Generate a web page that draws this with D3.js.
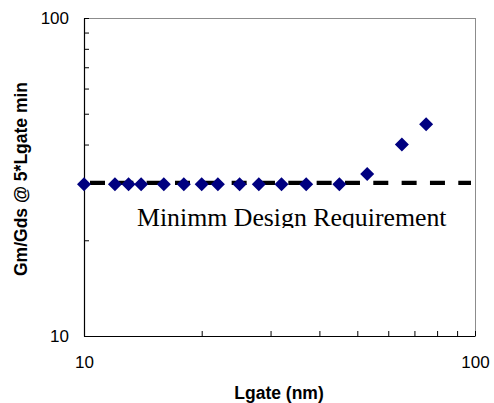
<!DOCTYPE html>
<html>
<head>
<meta charset="utf-8">
<script src="https://cdn.jsdelivr.net/npm/d3@7"></script>
<style>
  html, body { margin: 0; padding: 0; background: #fff; }
  svg { display: block; }
  .tick text { font-family: "Liberation Sans", Arial, sans-serif; font-size: 17px; fill: #000; }
</style>
</head>
<body>
<svg id="chart" width="494" height="403"></svg>
<script>
// Gate length (nm) and the Gm/Gds ratio measured at 5 x minimum gate length
const lgate = [10, 12, 13, 14, 16, 18, 20, 22, 25, 28, 32, 37, 45, 53, 65, 75];
const gmGds = [30, 30, 30, 30, 30, 30, 30, 30, 30, 30, 30, 30, 30, 32.3, 40, 46.3];

// Minimum design requirement for Gm/Gds
const requirement = 30;
const requirementLabel = "Minimm Design Requirement";

// Axis ranges and labelled ticks (log-log)
const xDomain = [10, 100];
const yDomain = [10, 100];
const labelledTicks = [10, 100];
const allTicks = [10, 20, 30, 40, 50, 60, 70, 80, 90, 100];

const xTitle = "Lgate (nm)";
const yTitle = "Gm/Gds @ 5*Lgate min";

const svg = d3.select("#chart");
const plot = { left: 84, right: 475, top: 18, bottom: 336 };

const x = d3.scaleLog().domain(xDomain).range([plot.left, plot.right]);
const y = d3.scaleLog().domain(yDomain).range([plot.bottom, plot.top]);

const tickFmt = d => labelledTicks.includes(d) ? String(d) : "";

// Gray frame on the top and right edges
svg.append("line")
  .attr("x1", plot.left).attr("x2", plot.right)
  .attr("y1", plot.top + 0.5).attr("y2", plot.top + 0.5)
  .attr("stroke", "#8c8c8c").attr("stroke-width", 1);
svg.append("line")
  .attr("x1", plot.right + 0.5).attr("x2", plot.right + 0.5)
  .attr("y1", plot.top).attr("y2", plot.bottom)
  .attr("stroke", "#8c8c8c").attr("stroke-width", 1);

// Axes with ticks pointing into the plot
const xAxis = svg.append("g")
  .attr("transform", `translate(0,${plot.bottom})`)
  .call(d3.axisBottom(x).tickValues(allTicks).tickFormat(tickFmt)
    .tickSizeInner(-5).tickSizeOuter(0).tickPadding(19.5));
const yAxis = svg.append("g")
  .attr("transform", `translate(${plot.left},0)`)
  .call(d3.axisLeft(y).tickValues(allTicks).tickFormat(tickFmt)
    .tickSizeInner(-5).tickSizeOuter(0).tickPadding(15));

[xAxis, yAxis].forEach(g => {
  g.select(".domain").attr("stroke", "#000").attr("stroke-width", 1.2);
  g.selectAll(".tick line").attr("stroke", "#000").attr("stroke-width", 1);
});
xAxis.selectAll(".tick text").attr("dy", "0.71em");

// Dashed requirement line
svg.append("line")
  .attr("x1", x(xDomain[0])).attr("x2", plot.right - 4)
  .attr("y1", y(requirement) - 1.5).attr("y2", y(requirement) - 1.5)
  .attr("stroke", "#000").attr("stroke-width", 4.3)
  .attr("stroke-dasharray", "15,13.33")
  .attr("stroke-dashoffset", 22.33);

// Requirement caption, cut off just below its baseline
svg.append("clipPath").attr("id", "captionClip")
  .append("rect").attr("x", 0).attr("y", 0).attr("width", 494).attr("height", 228);
svg.append("text")
  .attr("clip-path", "url(#captionClip)")
  .attr("x", 137).attr("y", 226)
  .attr("font-family", "'Liberation Serif', 'Times New Roman', serif")
  .attr("font-size", 25.8)
  .attr("fill", "#000")
  .text(requirementLabel);

// Data markers: navy diamonds
const points = lgate.map((l, i) => ({ l, v: gmGds[i] }));
svg.append("g").selectAll("path")
  .data(points)
  .join("path")
  .attr("d", d3.symbol(d3.symbolSquare, 98))
  .attr("transform", d => `translate(${x(d.l)},${y(d.v)}) rotate(45)`)
  .attr("fill", "#000080");

// Axis titles
svg.append("text")
  .attr("x", 279).attr("y", 399)
  .attr("text-anchor", "middle")
  .attr("font-family", "'Liberation Sans', Arial, sans-serif")
  .attr("font-weight", "bold").attr("font-size", 17.5)
  .text(xTitle);
svg.append("text")
  .attr("transform", "translate(27,179) rotate(-90)")
  .attr("text-anchor", "middle")
  .attr("font-family", "'Liberation Sans', Arial, sans-serif")
  .attr("font-weight", "bold").attr("font-size", 17.5)
  .text(yTitle);
</script>
</body>
</html>
